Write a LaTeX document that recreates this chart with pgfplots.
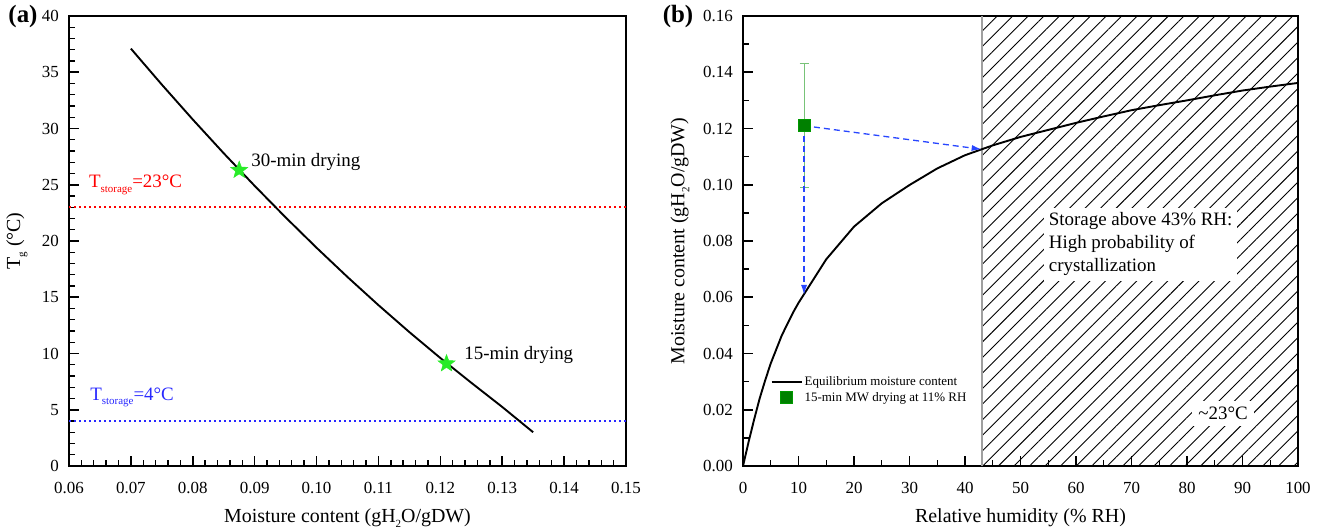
\documentclass[border=0pt]{standalone}
\usepackage{fontspec}
\setmainfont{Liberation Serif}
\usepackage{pgfplots}
\pgfplotsset{compat=1.18}
\usetikzlibrary{patterns.meta,arrows.meta}

\definecolor{starGreen}{RGB}{40,235,40}
\definecolor{sqGreen}{RGB}{0,128,0}
\definecolor{errGreen}{RGB}{120,195,120}
\definecolor{arrowBlue}{RGB}{40,70,255}
\definecolor{tBlue}{RGB}{40,40,255}

% filled five-pointed star
\pgfdeclareplotmark{fstar}{%
  \pgfpathmoveto{\pgfpointpolar{90}{\pgfplotmarksize}}%
  \pgfpathlineto{\pgfpointpolar{126}{0.42\pgfplotmarksize}}%
  \pgfpathlineto{\pgfpointpolar{162}{\pgfplotmarksize}}%
  \pgfpathlineto{\pgfpointpolar{198}{0.42\pgfplotmarksize}}%
  \pgfpathlineto{\pgfpointpolar{234}{\pgfplotmarksize}}%
  \pgfpathlineto{\pgfpointpolar{270}{0.42\pgfplotmarksize}}%
  \pgfpathlineto{\pgfpointpolar{306}{\pgfplotmarksize}}%
  \pgfpathlineto{\pgfpointpolar{342}{0.42\pgfplotmarksize}}%
  \pgfpathlineto{\pgfpointpolar{18}{\pgfplotmarksize}}%
  \pgfpathlineto{\pgfpointpolar{54}{0.42\pgfplotmarksize}}%
  \pgfpathclose
  \pgfusepathqfillstroke}

\newcommand{\ticksize}{\fontsize{17}{17}\selectfont}
\newcommand{\labsize}{\fontsize{20}{20}\selectfont}
\newcommand{\annsize}{\fontsize{19}{23}\selectfont}
\newcommand{\sub}[1]{\raisebox{-0.55ex}{\fontsize{11}{11}\selectfont #1}}

\pgfplotsset{
  lineimg/.style={legend image code/.code={\draw[##1] (0bp,0bp) -- (30bp,0bp);}},
  markimg/.style={legend image code/.code={\draw[##1] plot coordinates {(15bp,0bp)};}},
}

% Glass transition line (Tg vs moisture content)
\pgfplotstableread{
mc     tg
0.070  37.1
0.075  33.9
0.080  30.8
0.085  27.8
0.090  24.9
0.095  22.1
0.100  19.4
0.105  16.8
0.110  14.3
0.115  11.9
0.120  9.6
0.125  7.4
0.130  5.25
0.135  3.0
}\tgline

% Equilibrium moisture content isotherm
\pgfplotstableread{
rh   emc
0    0
1    0.0085
2    0.0165
3    0.0240
4    0.0305
5    0.0365
7    0.0465
9    0.0545
10   0.0580
15   0.0735
20   0.0851
25   0.0934
30   0.0999
35   0.1058
40   0.1105
45   0.1140
50   0.1170
55   0.1195
60   0.1220
65   0.1243
70   0.1265
75   0.1283
80   0.1300
85   0.1318
90   0.1335
95   0.1349
100  0.1362
}\emc

\begin{document}
\begin{tikzpicture}
\useasboundingbox (0,0) rectangle (1322bp,531bp);

%---------------- panel (a) ----------------
\begin{axis}[
  scale only axis, height=450bp, width=557bp,
  at={(69bp,65bp)}, anchor=south west,
  line width=1.8bp,
  axis line style={line width=1.8bp, black},
  tick align=inside, xtick pos=left, ytick pos=left,
  major tick length=10bp, minor tick length=6bp,
  every major tick/.append style={line width=1.6bp, black},
  every minor tick/.append style={line width=1.4bp, black},
  tick label style={font=\ticksize},
  /pgf/number format/assume math mode=true,
  scaled x ticks=false, scaled y ticks=false,
  label style={font=\labsize},
  clip=false,
  xmin=0.06, xmax=0.15, ymin=0, ymax=40,
  xtick={0.06,0.07,0.08,0.09,0.10,0.11,0.12,0.13,0.14,0.15},
  ytick={0,5,10,15,20,25,30,35,40},
  minor x tick num=4, minor y tick num=4,
  xticklabel style={yshift=-12bp, /pgf/number format/.cd, fixed, fixed zerofill, precision=2},
  yticklabel style={xshift=-6bp},
  xlabel={Moisture content (gH\sub{2}O/gDW)},
  ylabel={T\sub{g} (°C)},
  xlabel style={at={(axis description cs:0.5,-0.1156)}, anchor=center},
  ylabel style={at={(axis description cs:-0.0934,0.5)}, anchor=center},
]
\addplot[red, line width=1.5bp, dash pattern=on 1.5bp off 3.5bp] coordinates {(0.06,23) (0.15,23)};
\addplot[tBlue, line width=1.5bp, dash pattern=on 1.5bp off 3.5bp] coordinates {(0.06,4) (0.15,4)};
\addplot[black, line width=1.9bp] table[x=mc, y=tg] {\tgline};
\addplot[only marks, mark=fstar, mark size=9bp, draw=starGreen, fill=starGreen, line width=0.5bp] coordinates {(0.0875,26.3) (0.121,9.1)};

\node[anchor=west, font=\annsize] at (axis cs:0.0888,27.0) {30-min drying};
\node[anchor=west, font=\annsize] at (axis cs:0.1232,9.9) {15-min drying};
\node[anchor=west, font=\annsize, text=red, inner sep=0pt] at (axis cs:0.0631,25.0) {T\sub{storage}=23°C};
\node[anchor=west, font=\annsize, text=tBlue, inner sep=0pt] at (axis cs:0.0633,6.1) {T\sub{storage}=4°C};
\end{axis}

%---------------- panel (b) ----------------
\begin{axis}[
  scale only axis, height=450bp, width=555bp,
  at={(743bp,65bp)}, anchor=south west,
  line width=1.8bp,
  axis line style={line width=1.8bp, black},
  tick align=inside, xtick pos=left, ytick pos=left,
  major tick length=10bp, minor tick length=6bp,
  every major tick/.append style={line width=1.6bp, black},
  every minor tick/.append style={line width=1.4bp, black},
  tick label style={font=\ticksize},
  /pgf/number format/assume math mode=true,
  scaled x ticks=false, scaled y ticks=false,
  label style={font=\labsize},
  clip=false,
  xmin=0, xmax=100, ymin=0, ymax=0.16,
  xtick={0,10,...,100},
  ytick={0,0.02,0.04,0.06,0.08,0.10,0.12,0.14,0.16},
  minor x tick num=1, minor y tick num=1,
  xticklabel style={yshift=-12bp},
  yticklabel style={xshift=-6bp, /pgf/number format/.cd, fixed, fixed zerofill, precision=2},
  xlabel={Relative humidity (\% RH)},
  ylabel={Moisture content (gH\sub{2}O/gDW)},
  xlabel style={at={(axis description cs:0.5,-0.1156)}, anchor=center},
  ylabel style={at={(axis description cs:-0.1135,0.5)}, anchor=center},
  legend style={at={(axis cs:4.3,0.0335)}, anchor=north west, draw=none, fill=none,
    font=\fontsize{13}{15}\selectfont, row sep=1bp,
    /tikz/every even column/.append style={column sep=2bp}},
  legend cell align=left,
]
% storage region above 43% RH
\addplot[draw=none, pattern={Lines[angle=45, distance=11bp, line width=0.9bp]}, forget plot]
  coordinates {(43,0) (43,0.16) (100,0.16) (100,0)} \closedcycle;
\addplot[gray!75, line width=1.8bp, forget plot] coordinates {(43,0) (43,0.16)};

\node[anchor=north west, fill=white, align=left, font=\annsize, inner sep=5bp]
  at (axis cs:54.05,0.0921) {Storage above 43\% RH:\\High probability of\\crystallization};
\node[fill=white, font=\annsize, inner sep=6bp] at (axis cs:86.5,0.0188) {\textasciitilde23°C};

\addplot[black, line width=1.9bp, lineimg] table[x=rh, y=emc] {\emc};
\addlegendentry{Equilibrium moisture content}

\addplot[draw=none, mark=none, forget plot,
  error bars/.cd, y dir=both, y explicit,
  error bar style={errGreen, line width=1.1bp},
  error mark options={errGreen, rotate=90, mark size=4.5bp, line width=1.1bp}]
  coordinates {(11,0.121) +- (0,0.022)};

\addplot[only marks, mark=square*, mark size=6bp, draw=sqGreen!80!green, fill=sqGreen, line width=0.8bp, markimg]
  coordinates {(11,0.121)};
\addlegendentry{15-min MW drying at 11\% RH}

\addplot[arrowBlue, line width=1.3bp, dash pattern=on 6bp off 4bp,
  -{Latex[length=10bp,width=6bp]}, forget plot] coordinates {(11,0.121) (43,0.1126)};
\addplot[arrowBlue, line width=1.3bp, dash pattern=on 6bp off 4bp,
  -{Latex[length=10bp,width=6bp]}, forget plot] coordinates {(11,0.121) (11,0.0608)};
\end{axis}

\node[font=\bfseries\fontsize{25}{25}\selectfont] at (23bp,514bp) {(a)};
\node[font=\bfseries\fontsize{25}{25}\selectfont] at (678bp,514bp) {(b)};
\end{tikzpicture}
\end{document}
